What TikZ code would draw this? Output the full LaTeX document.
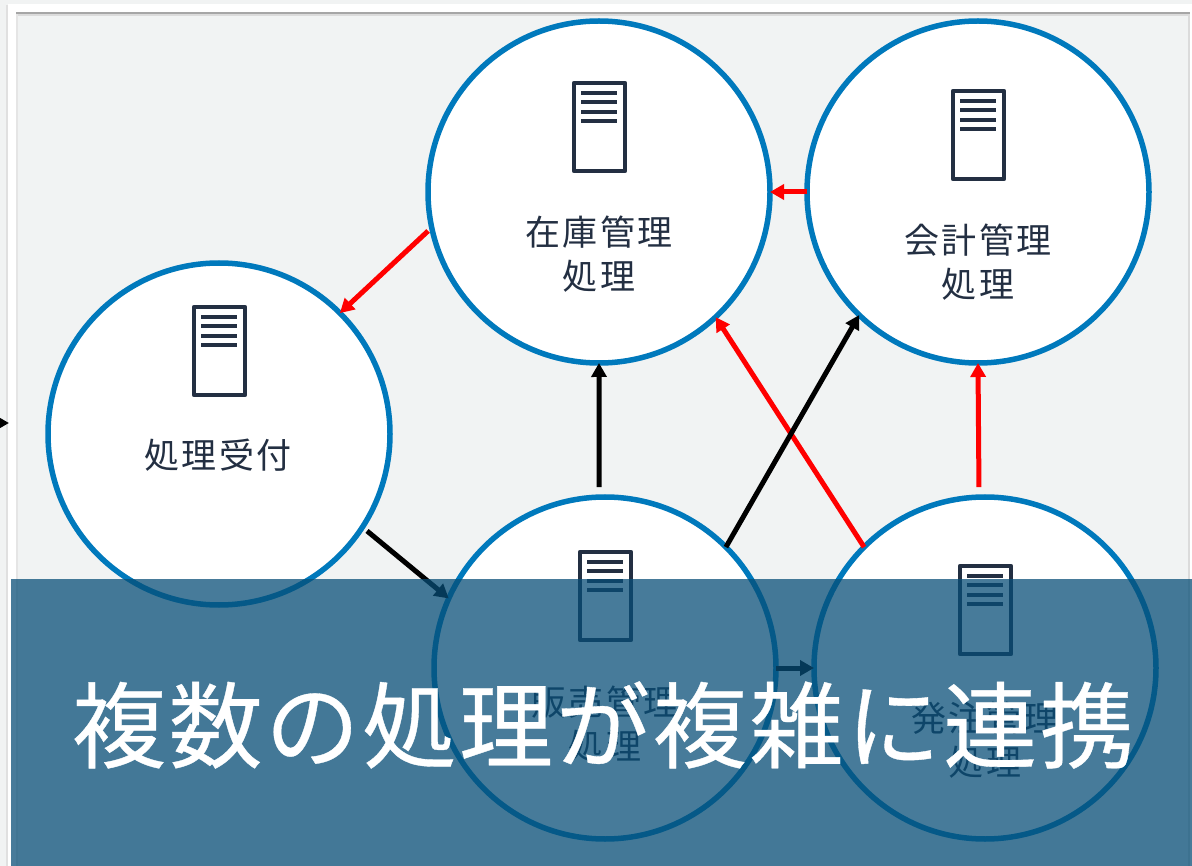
\documentclass[tikz,border=0pt]{standalone}
\usepackage{fontspec}
\setmainfont{Noto Sans CJK JP}
\usetikzlibrary{arrows.meta}
\definecolor{pagebg}{HTML}{F1F3F3}
\definecolor{ringblue}{HTML}{0079BC}
\definecolor{iconink}{HTML}{232F42}
\definecolor{bandcol}{RGB}{7,78,119}
\tikzset{
  proc/.style={circle,draw=ringblue,line width=5.5pt,fill=white,minimum size=342pt,inner sep=0pt,outer sep=0pt},
  lbl/.style={text=iconink,font=\fontsize{35}{44}\selectfont\addfontfeature{LetterSpace=7},align=center,inner sep=0pt},
  blk/.style={line width=5pt,black,-{Triangle[length=14pt,width=15pt]}},
  redarr/.style={line width=5pt,red,-{Triangle[length=14pt,width=15pt]}},
  iconbox/.style={draw=iconink,line width=4.5pt,fill=white,line join=round},
  iconbar/.style={draw=iconink,line width=4pt},
}
\newcommand{\srvicon}[2]{%
  \path[iconbox] (#1-25,#2) rectangle (#1+26,#2+88);
  \foreach \yy in {10,19,29,38}{\draw[iconbar] (#1-18,#2+\yy) -- (#1+18,#2+\yy);}
}
\begin{document}
\begin{tikzpicture}[x=1pt,y=-1pt]
\useasboundingbox (0,0) rectangle (1192,866);
\clip (0,0) rectangle (1192,866);
% page and frame
\fill[pagebg] (0,0) rectangle (1192,866);
\fill[black!12] (6,5) rectangle (1192,866);
\fill[white] (8,4) rectangle (1192,866);
\fill[pagebg] (16,12) rectangle (1190,866);
\fill[black!35] (16,12) rectangle (1190,14);
\fill[black!14] (16,14) rectangle (1190,16);
\fill[black!10] (16,14) rectangle (18,866);
\fill[black!14] (1188,14) rectangle (1190,866);
% nodes
\node[proc] (zaiko) at (599,192) {};
\node[proc] (kaikei) at (978,192) {};
\node[proc] (uke) at (219,434) {};
\node[proc] (hanbai) at (605,668) {};
\node[proc] (hatchu) at (985,668) {};
\srvicon{599}{83}
\srvicon{978}{91}
\srvicon{219}{307}
\srvicon{605}{552}
\srvicon{985}{566}
\node[lbl] (zaikot) at (599,254) {在庫管理\\処理};
\node[lbl] (kaikeit) at (978,262) {会計管理\\処理};
\node[lbl] (uket) at (218,455) {処理受付};
\node[lbl] (hanbait) at (605,724) {販売管理\\処理};
\node[lbl] (hatchut) at (985,740) {発注管理\\処理};
% connectors
\coordinate (inflow) at (-30,423);
\coordinate (inflowend) at (9,423);
\draw[blk] (inflow) -- (inflowend);
\draw[redarr,shorten <=5pt] (zaiko.192.5) -- (uke.45);
\draw[redarr] (kaikei.180) -- (zaiko.0);
\draw[redarr] (hatchu.135) -- (zaiko.-47);
\draw[redarr,shorten <=10pt] (hatchu.92.5) -- (kaikei.-90);
\draw[blk,shorten <=10pt] (hanbai.92.5) -- (zaiko.-90);
\draw[blk] (hanbai.45) -- (kaikei.-134);
\draw[blk,shorten <=6pt] (uke.-33) -- (hanbai.156.5);
\draw[blk] (hanbai.0) -- (hatchu.180);
% band
\fill[bandcol,opacity=.74] (11,579) rectangle (1192,866);
\node[text=white,font=\fontsize{94}{100}\selectfont\addfontfeature{LetterSpace=3,FakeBold=0.4},inner sep=0pt] (title) at (603,725) {複数の処理が複雑に連携};
\end{tikzpicture}
\end{document}
